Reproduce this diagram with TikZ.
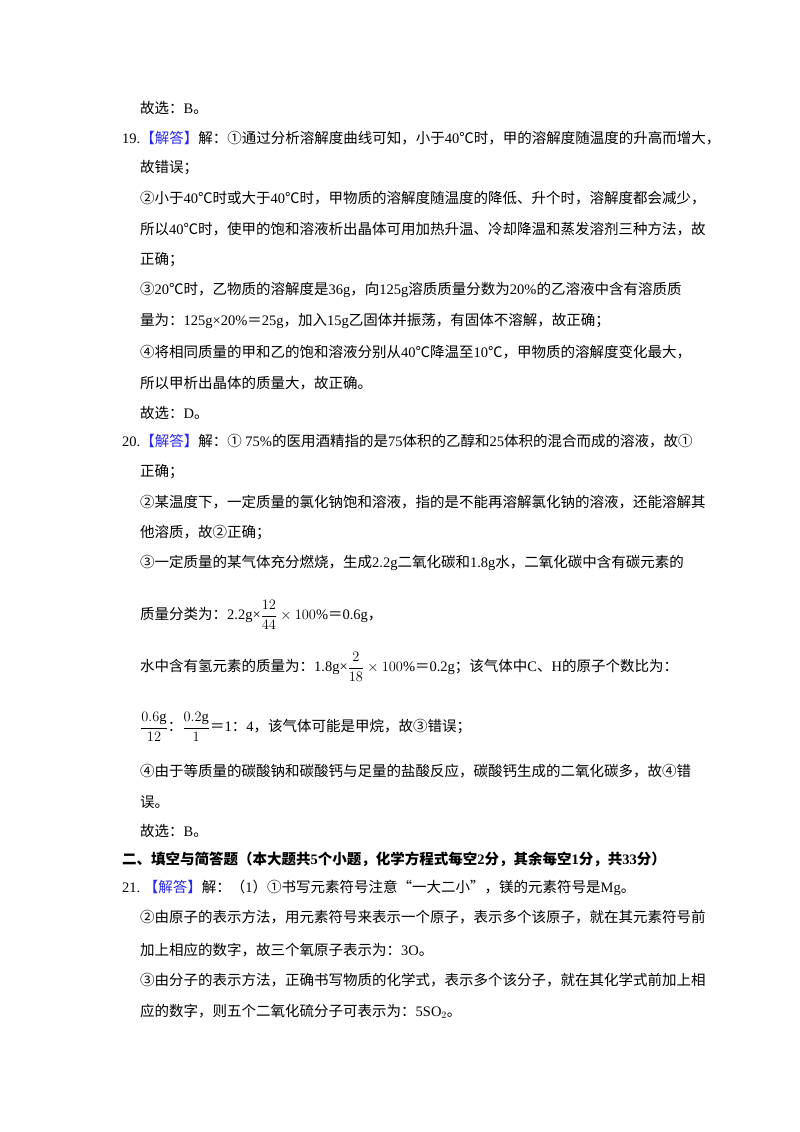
\documentclass[tikz,border=0pt]{standalone}
\usepackage{amsmath}
\usepackage{fontspec}
\setmainfont{Liberation Serif}
\newfontfamily\cj{Noto Sans CJK SC}
\XeTeXinterchartokenstate=1
\newXeTeXintercharclass\cjkclass
\count255="4E00 \loop\XeTeXcharclass\count255=\cjkclass\advance\count255 1 \ifnum\count255<"A000 \repeat
\count255="3000 \loop\XeTeXcharclass\count255=\cjkclass\advance\count255 1 \ifnum\count255<"3040 \repeat
\count255="FF00 \loop\XeTeXcharclass\count255=\cjkclass\advance\count255 1 \ifnum\count255<"FFF0 \repeat
\count255="2460 \loop\XeTeXcharclass\count255=\cjkclass\advance\count255 1 \ifnum\count255<"2474 \repeat
\XeTeXcharclass"2103=\cjkclass
\XeTeXcharclass"201C=\cjkclass
\XeTeXcharclass"201D=\cjkclass
\XeTeXinterchartoks 0 \cjkclass={\cj}
\XeTeXinterchartoks 4095 \cjkclass={\cj}
\XeTeXinterchartoks \cjkclass 0={\rmfamily}
\XeTeXinterchartoks \cjkclass 4095={\rmfamily}
\definecolor{ans}{RGB}{40,40,235}
\newcommand{\jd}{\textcolor{ans}{【解答】}}
\begin{document}
\begin{tikzpicture}[x=1pt,y=-1pt,
  ln/.style={anchor=west,inner sep=0pt,font=\fontsize{14.5}{17}\selectfont}]
\useasboundingbox (0,0) rectangle (800,1132);
\node[ln] (l1) at (140,108) {故选：B。};
\node[ln] (l2) at (122,138) {19.\jd 解：①通过分析溶解度曲线可知，小于40℃时，甲的溶解度随温度的升高而增大，};
\node[ln] (l3) at (140,168) {故错误；};
\node[ln] (l4) at (140,198) {②小于40℃时或大于40℃时，甲物质的溶解度随温度的降低、升个时，溶解度都会减少，};
\node[ln] (l5) at (140,229) {所以40℃时，使甲的饱和溶液析出晶体可用加热升温、冷却降温和蒸发溶剂三种方法，故};
\node[ln] (l6) at (140,260) {正确；};
\node[ln] (l7) at (140,290) {③20℃时，乙物质的溶解度是36g，向125g溶质质量分数为20\%的乙溶液中含有溶质质};
\node[ln] (l8) at (140,321) {量为：125g×20\%＝25g，加入15g乙固体并振荡，有固体不溶解，故正确；};
\node[ln] (l9) at (140,352) {④将相同质量的甲和乙的饱和溶液分别从40℃降温至10℃，甲物质的溶解度变化最大，};
\node[ln] (l10) at (140,383) {所以甲析出晶体的质量大，故正确。};
\node[ln] (l11) at (140,413) {故选：D。};
\node[ln] (l12) at (122,441) {20.\jd 解：① 75\%的医用酒精指的是75体积的乙醇和25体积的混合而成的溶液，故①};
\node[ln] (l13) at (140,472) {正确；};
\node[ln] (l14) at (140,502) {②某温度下，一定质量的氯化钠饱和溶液，指的是不能再溶解氯化钠的溶液，还能溶解其};
\node[ln] (l15) at (140,533) {他溶质，故②正确；};
\node[ln] (l16) at (140,563) {③一定质量的某气体充分燃烧，生成2.2g二氧化碳和1.8g水，二氧化碳中含有碳元素的};
\node[ln] (l17) at (140,615) {质量分类为：2.2g×$\dfrac{12}{44}\times 100\%$＝0.6g，};
\node[ln] (l18) at (140,667) {水中含有氢元素的质量为：1.8g×$\dfrac{2}{18}\times 100\%$＝0.2g；该气体中C、H的原子个数比为：};
\node[ln] (l19) at (140,727) {$\dfrac{0.6\mathrm{g}}{12}$：$\dfrac{0.2\mathrm{g}}{1}$＝1：4，该气体可能是甲烷，故③错误；};
\node[ln] (l20) at (140,771) {④由于等质量的碳酸钠和碳酸钙与足量的盐酸反应，碳酸钙生成的二氧化碳多，故④错};
\node[ln] (l21) at (140,802) {误。};
\node[ln] (l22) at (140,831) {故选：B。};
\node[ln,font=\fontsize{14.5}{17}\selectfont\bfseries] (l23) at (122,859) {二、填空与简答题（本大题共5个小题，化学方程式每空2分，其余每空1分，共33分）};
\node[ln] (l24) at (122,888) {21.~\jd 解：（1）①书写元素符号注意“一大二小”，镁的元素符号是Mg。};
\node[ln] (l25) at (140,917) {②由原子的表示方法，用元素符号来表示一个原子，表示多个该原子，就在其元素符号前};
\node[ln] (l26) at (140,950) {加上相应的数字，故三个氧原子表示为：3O。};
\node[ln] (l27) at (140,980) {③由分子的表示方法，正确书写物质的化学式，表示多个该分子，就在其化学式前加上相};
\node[ln] (l28) at (140,1011) {应的数字，则五个二氧化硫分子可表示为：5SO$_2$。};
\end{tikzpicture}
\end{document}
